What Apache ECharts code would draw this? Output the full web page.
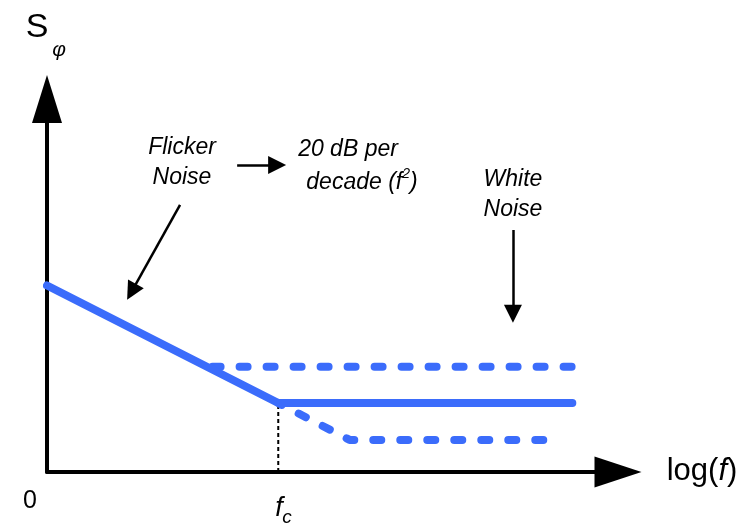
<!DOCTYPE html>
<html>
<head>
<meta charset="utf-8">
<script src="https://cdn.jsdelivr.net/npm/echarts@6/dist/echarts.min.js"></script>
<style>
  html, body { margin: 0; padding: 0; background: #fff; }
  #chart { width: 753px; height: 526px; }
</style>
</head>
<body>
<div id="chart"></div>
<script>
// Phase-noise spectrum sketch: S_phi versus log(f), in arbitrary units.
const xRange = [0, 10];      // log(f) axis extent
const yRange = [0, 10];      // S_phi axis extent
const cornerFreq = 4.05;     // f_c, flicker corner

// Flicker region sloping down to the corner, then flat white-noise floor
const nominalCurve = [[0, 5.0], [cornerFreq, 1.85], [9.2, 1.85]];
// Higher noise floor variant (dashed)
const upperFloor = [[2.9, 2.82], [9.25, 2.82]];
// Lower noise floor variant (dashed)
const lowerFloor = [[cornerFreq, 1.85], [5.3, 0.86], [8.9, 0.86]];
// Corner marker down to the frequency axis
const cornerMarker = [[cornerFreq, 0], [cornerFreq, 1.85]];

// Annotation pointers: [from, to]
const pointers = [
  [[2.33, 7.16], [1.48, 4.83]],   // Flicker Noise -> slope
  [[3.33, 8.23], [4.03, 8.23]],   // Flicker Noise -> 20 dB per decade
  [[8.16, 6.49], [8.16, 4.24]]    // White Noise -> floor
];

const blue = '#3b6cfb';
const font = '"Liberation Sans", Arial, sans-serif';
const noteFont = 'italic 23px ' + font;

const chart = echarts.init(document.getElementById('chart'));

const option = {
  animation: false,
  backgroundColor: '#fff',
  grid: { left: 47, top: 99, right: 135, bottom: 54, containLabel: false },
  xAxis: {
    type: 'value', min: xRange[0], max: xRange[1],
    axisLine: {
      show: true, onZero: false,
      lineStyle: { color: '#000', width: 4 },
      symbol: ['none', 'triangle'], symbolSize: [31, 47]
    },
    axisTick: { show: false }, axisLabel: { show: false }, splitLine: { show: false }
  },
  yAxis: {
    type: 'value', min: yRange[0], max: yRange[1],
    axisLine: {
      show: true, onZero: false,
      lineStyle: { color: '#000', width: 4 },
      symbol: ['none', 'triangle'], symbolSize: [30, 48]
    },
    axisTick: { show: false }, axisLabel: { show: false }, splitLine: { show: false }
  },
  series: [
    {
      type: 'line', data: cornerMarker, symbol: 'none', z: 1,
      lineStyle: { color: '#000', width: 2, type: [4, 3] }
    },
    {
      type: 'line', data: upperFloor, symbol: 'none', z: 2,
      lineStyle: { color: blue, width: 8, type: [8, 19], cap: 'round' }
    },
    {
      type: 'line', data: lowerFloor, symbol: 'none', z: 2,
      lineStyle: { color: blue, width: 8, type: [8, 19], cap: 'round', dashOffset: 4 }
    },
    {
      type: 'line', data: nominalCurve, symbol: 'none', z: 3,
      lineStyle: { color: blue, width: 8, cap: 'round', join: 'round' }
    },
    {
      type: 'lines', coordinateSystem: 'cartesian2d', z: 4,
      symbol: ['none', 'triangle'], symbolSize: [15, 18],
      lineStyle: { color: '#000', width: 2.5, opacity: 1, curveness: 0 },
      data: pointers.map(p => ({ coords: p }))
    }
  ],
  graphic: [
    { type: 'text', x: 37, y: 28, style: { text: 'S', font: '34px ' + font, fill: '#000', align: 'center', verticalAlign: 'middle' } },
    { type: 'text', x: 59, y: 50, style: { text: 'φ', font: 'italic 21px ' + font, fill: '#000', align: 'center', verticalAlign: 'middle' } },
    { type: 'text', x: 182, y: 148, style: { text: 'Flicker', font: noteFont, fill: '#000', align: 'center', verticalAlign: 'middle' } },
    { type: 'text', x: 182, y: 178, style: { text: 'Noise', font: noteFont, fill: '#000', align: 'center', verticalAlign: 'middle' } },
    { type: 'text', x: 348, y: 150, style: { text: '20 dB per', font: noteFont, fill: '#000', align: 'center', verticalAlign: 'middle' } },
    {
      type: 'text', x: 362, y: 181,
      style: {
        text: '{t|decade (f}{s|2}{t|)}', align: 'center', verticalAlign: 'middle',
        rich: {
          t: { font: noteFont, fill: '#000', verticalAlign: 'bottom' },
          s: { font: 'italic 14px ' + font, fill: '#000', verticalAlign: 'top', padding: [0, 0, 13, 0] }
        }
      }
    },
    { type: 'text', x: 513, y: 180, style: { text: 'White', font: noteFont, fill: '#000', align: 'center', verticalAlign: 'middle' } },
    { type: 'text', x: 513, y: 210, style: { text: 'Noise', font: noteFont, fill: '#000', align: 'center', verticalAlign: 'middle' } },
    { type: 'text', x: 30, y: 501, style: { text: '0', font: '25px ' + font, fill: '#000', align: 'center', verticalAlign: 'middle' } },
    { type: 'text', x: 279, y: 508, style: { text: 'f', font: 'italic 27px ' + font, fill: '#000', align: 'center', verticalAlign: 'middle' } },
    { type: 'text', x: 287, y: 518, style: { text: 'c', font: 'italic 19px ' + font, fill: '#000', align: 'center', verticalAlign: 'middle' } },
    {
      type: 'text', x: 702, y: 471,
      style: {
        text: '{t|log(}{i|f}{t|)}', align: 'center', verticalAlign: 'middle',
        rich: {
          t: { font: '31px ' + font, fill: '#000' },
          i: { font: 'italic 31px ' + font, fill: '#000' }
        }
      }
    }
  ]
};

chart.setOption(option);
</script>
</body>
</html>
